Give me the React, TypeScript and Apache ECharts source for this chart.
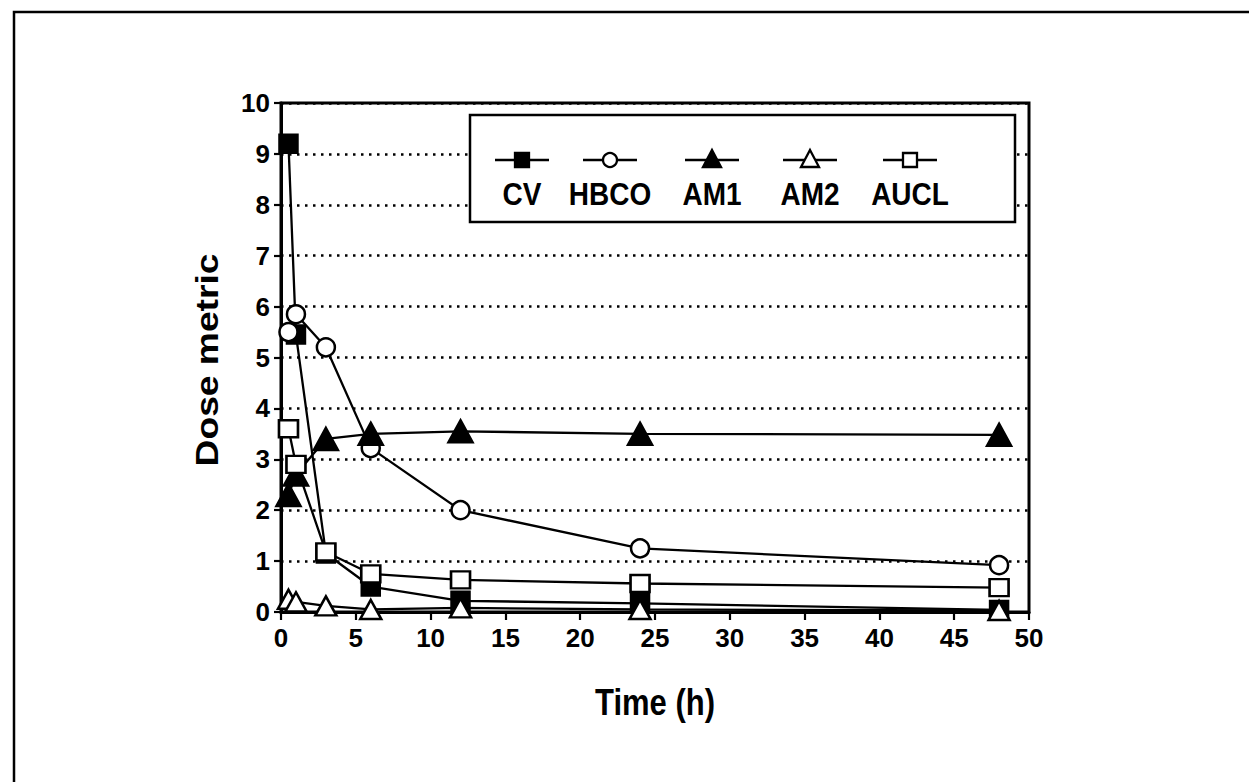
import React, { useEffect, useRef } from "react";
import * as echarts from "echarts";

const times = [0.5, 1, 3, 6, 12, 24, 48];
const cvValues = [9.2, 5.45, 1.15, 0.5, 0.22, 0.17, 0.04];
const hbcoValues = [5.5, 5.85, 5.2, 3.22, 2.0, 1.25, 0.92];
const am1Values = [2.3, 2.7, 3.4, 3.5, 3.55, 3.5, 3.48];
const am2Values = [0.25, 0.2, 0.12, 0.05, 0.08, 0.05, 0.03];
const auclValues = [3.6, 2.9, 1.18, 0.75, 0.63, 0.56, 0.48];
const legendNames = ["CV", "HBCO", "AM1", "AM2", "AUCL"];

const FONT = "'Liberation Sans', Arial, sans-serif";

export default function App() {
  const ref = useRef<HTMLDivElement>(null);
  useEffect(() => {
    document.body.style.margin = "0";
    const chart = echarts.init(ref.current!, null, { renderer: "svg" });
    const pair = (vals: number[]) => times.map((t, i) => [t, vals[i]]);
    const mk = (name: string, vals: number[], symbol: string, size: any, filled: boolean) => ({
      name,
      type: "line",
      data: pair(vals),
      symbol,
      symbolSize: size,
      showSymbol: true,
      lineStyle: { color: "#000", width: 2.3 },
      itemStyle: { color: filled ? "#000" : "#fff", borderColor: "#000", borderWidth: 2.5 },
      z: 3,
    });
    const legendX = [522, 610, 712, 810, 910];
    const legendSym = ["rect", "circle", "tri", "tri", "rect"];
    const legendFill = [true, false, true, false, false];
    const legendEls: any[] = [];
    legendNames.forEach((n, i) => {
      const cx = legendX[i];
      const cy = 160;
      legendEls.push({ type: "line", z: 102, shape: { x1: cx - 27, y1: cy, x2: cx + 27, y2: cy }, style: { stroke: "#000", lineWidth: 2.3 } });
      const st = { fill: legendFill[i] ? "#000" : "#fff", stroke: "#000", lineWidth: 2.3 };
      if (legendSym[i] === "rect") legendEls.push({ type: "rect", z: 103, shape: { x: cx - 7, y: cy - 7, width: 14, height: 14 }, style: st });
      else if (legendSym[i] === "circle") legendEls.push({ type: "circle", z: 103, shape: { cx, cy, r: 7 }, style: st });
      else legendEls.push({ type: "polygon", z: 103, shape: { points: [[cx, cy - 10], [cx + 9, cy + 7], [cx - 9, cy + 7]] }, style: st });
      legendEls.push({ type: "text", z: 103, x: cx, y: 194, scaleY: 1.15, style: { text: n, font: `bold 28px ${FONT}`, fill: "#000", align: "center", verticalAlign: "middle" } });
    });
    chart.setOption({
      animation: false,
      backgroundColor: "#fff",
      grid: { left: 281, right: 220, top: 103, bottom: 170, show: true, borderColor: "#000", borderWidth: 3, backgroundColor: "transparent" },
      xAxis: {
        type: "value", min: 0, max: 50, interval: 5,
        axisLine: { lineStyle: { color: "#000", width: 3 } },
        axisTick: { show: true, length: 8, lineStyle: { color: "#000", width: 2.2 } },
        axisLabel: { fontFamily: FONT, fontWeight: "bold", fontSize: 26, color: "#000", margin: 13 },
        splitLine: { show: false },
      },
      yAxis: {
        type: "value", min: 0, max: 10, interval: 1,
        axisLine: { lineStyle: { color: "#000", width: 3 } },
        axisTick: { show: true, length: 7, lineStyle: { color: "#000", width: 2.2 } },
        axisLabel: { fontFamily: FONT, fontWeight: "bold", fontSize: 26, color: "#000", margin: 11 },
        splitLine: { show: true, lineStyle: { color: "#000", width: 2.5, type: [2.5, 5.5] } },
      },
      series: [
        mk("CV", cvValues, "rect", [18, 18], true),
        mk("HBCO", hbcoValues, "circle", 18, false),
        mk("AM1", am1Values, "triangle", [24, 22], true),
        mk("AM2", am2Values, "triangle", [21, 19], false),
        mk("AUCL", auclValues, "rect", [19, 17], false),
      ],
      graphic: [
        { type: "rect", z: 100, shape: { x: 14, y: 12, width: 1300, height: 900 }, style: { fill: "none", stroke: "#000", lineWidth: 2.5 } },
        { type: "rect", z: 100, shape: { x: 470, y: 115, width: 545, height: 107 }, style: { fill: "#fff", stroke: "#000", lineWidth: 2.5 } },
        { type: "text", z: 100, x: 207, y: 360, rotation: Math.PI / 2, scaleX: 1.2, style: { text: "Dose metric", font: `bold 31px ${FONT}`, fill: "#000", align: "center", verticalAlign: "middle" } },
        { type: "text", z: 100, x: 655, y: 702, scaleY: 1.2, style: { text: "Time (h)", font: `bold 31px ${FONT}`, fill: "#000", align: "center", verticalAlign: "middle" } },
        ...legendEls,
      ],
    });
    return () => chart.dispose();
  }, []);
  return <div ref={ref} style={{ position: "absolute", left: 0, top: 0, width: 1249, height: 782 }} />;
}
